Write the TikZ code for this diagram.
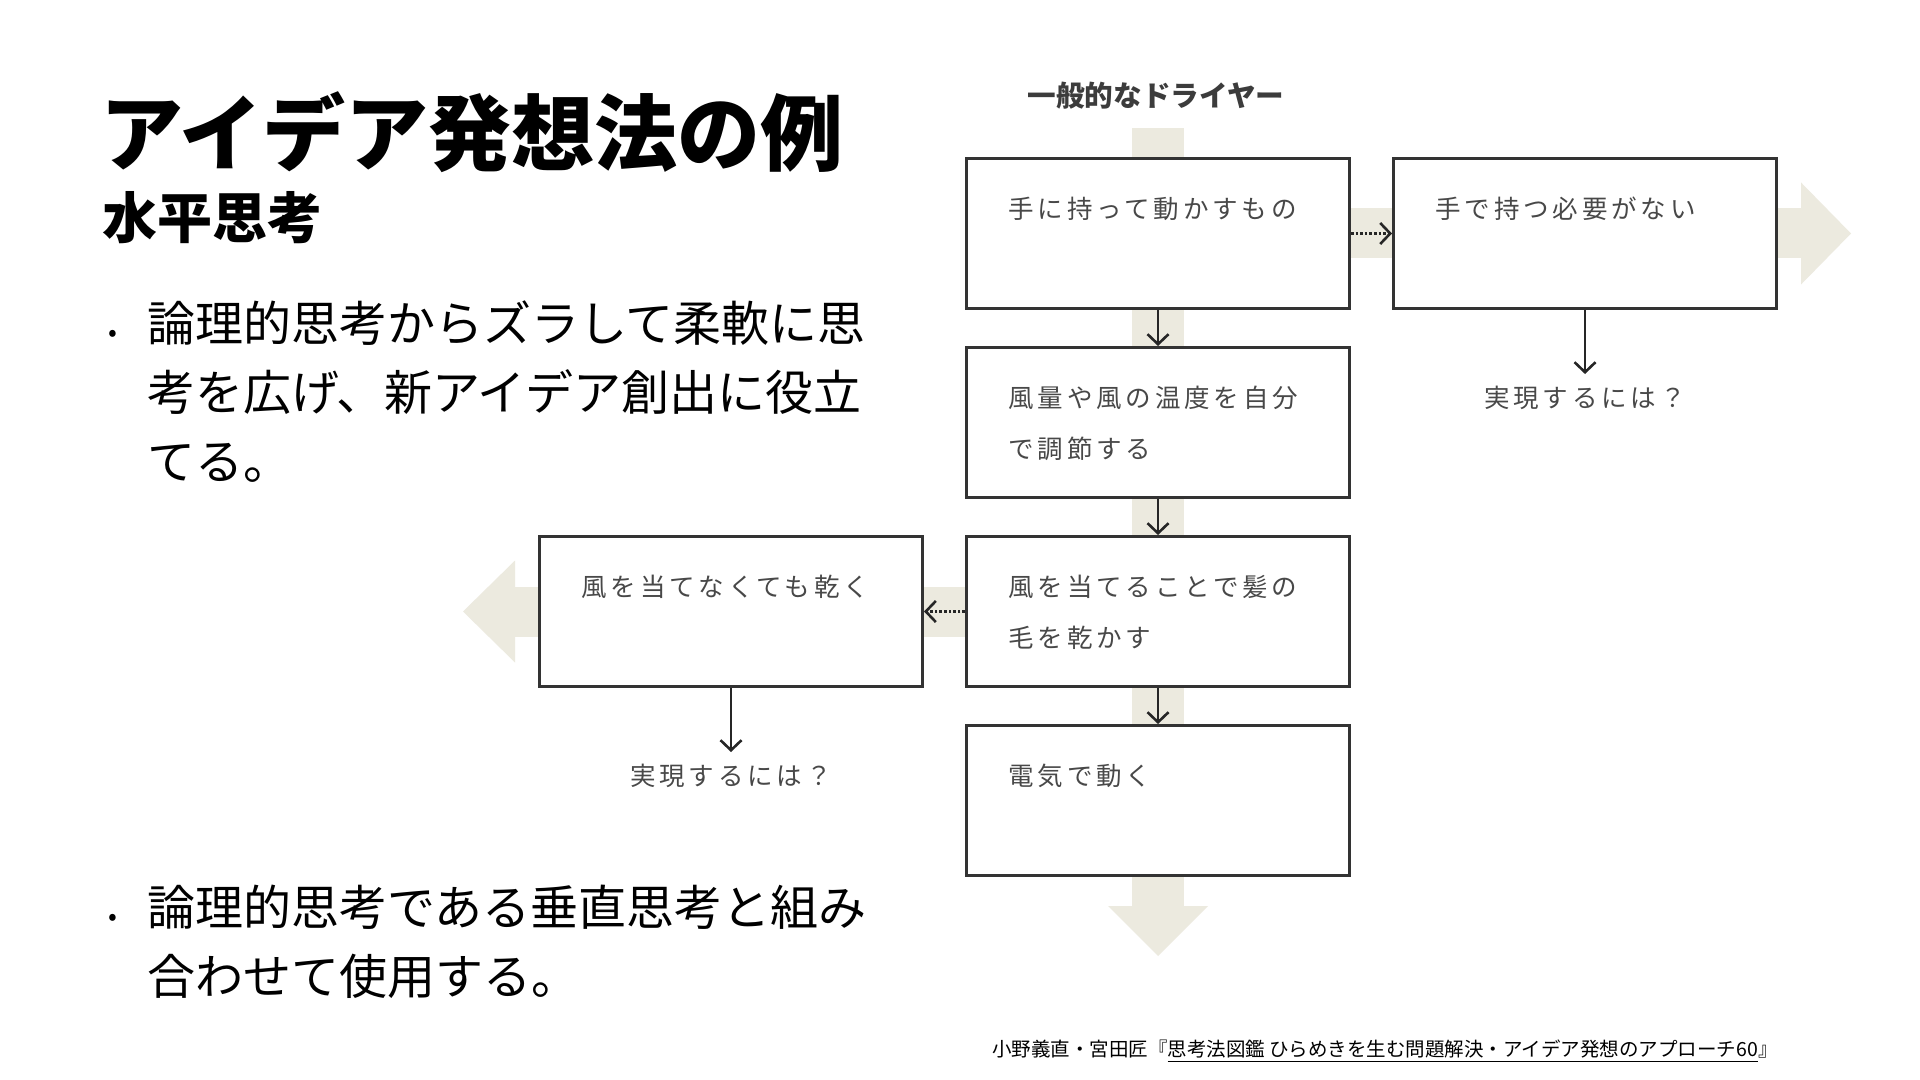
\documentclass[tikz,border=0pt]{standalone}
\usepackage{fontspec}
\setmainfont{Noto Sans CJK JP}
\newfontfamily\boxfont{Noto Sans CJK JP}[LetterSpace=15]
\usetikzlibrary{calc,positioning,arrows.meta,backgrounds}
\definecolor{bandc}{HTML}{ECEADF}
\definecolor{linec}{HTML}{333333}
\definecolor{txtc}{HTML}{484848}
\definecolor{headc}{HTML}{3C3C3C}

\begin{document}
\begin{tikzpicture}[x=0.5pt,y=-0.5pt,
  idea/.style={rectangle, draw=linec, line width=1.5pt, fill=white,
    minimum width=191.5pt, minimum height=75pt, text width=149.5pt,
    inner xsep=21pt, inner ysep=0pt, text height=30pt, text depth=45pt,
    align=left, text=txtc, font=\boxfont\fontsize{12.75pt}{25.5pt}\selectfont},
  ask/.style={inner sep=6pt, text=txtc, font=\boxfont\fontsize{12.75pt}{15pt}\selectfont},
  flow/.style={draw=black!85, line width=1.3pt, -{Straight Barb[length=5pt,width=10.5pt]}},
  side/.style={flow, densely dotted},
  point/.style={anchor=base west, inner sep=0pt, text width=380pt, align=left,
    font=\fontsize{24pt}{34.5pt}\selectfont}]
\useasboundingbox (0,0) rectangle (1920,1080);

\node [anchor=west, inner sep=0pt, font=\bfseries\fontsize{41.5pt}{45pt}\selectfont] (title) at (100,132) {アイデア発想法の例};
\node [anchor=west, inner sep=0pt, font=\bfseries\fontsize{27.5pt}{30pt}\selectfont] (sub) at (102,218) {水平思考};
\node [point] (pt1) at (147,342) {\llap{\fontsize{13pt}{13pt}\selectfont •\hspace{15pt}}論理的思考からズラして柔軟に思\\考を広げ、新アイデア創出に役立\\てる。};
\node [point] (pt2) at (147,925) {\llap{\fontsize{13pt}{13pt}\selectfont •\hspace{15pt}}論理的思考である垂直思考と組み\\合わせて使用する。};

\node [idea, anchor=north west] (dryer) at (965,157) {手に持って動かすもの};
\node [idea, right=20.5pt of dryer] (nohand) {手で持つ必要がない};
\node [idea, below=18pt of dryer] (adjust) {風量や風の温度を自分\\で調節する};
\node [idea, below=18pt of adjust] (dryhair) {風を当てることで髪の\\毛を乾かす};
\node [idea, below=18pt of dryhair] (electric) {電気で動く};
\node [idea, left=20.5pt of dryhair] (nowind) {風を当てなくても乾く};
\node [ask, below=32pt of nohand] (ask1) {実現するには？};
\node [ask, below=32pt of nowind] (ask2) {実現するには？};
\node [text=headc, font=\bfseries\fontsize{14.3pt}{16pt}\selectfont] (head) at (1156,96) {一般的なドライヤー};

\begin{scope}[on background layer]
\fill [white] (0,0) rectangle (1920,1080);
\fill [bandc] ($(dryer.north)+(-26,-29)$) rectangle ($(electric.south)+(26,29)$);
\fill [bandc] ($(electric.south)+(-50,29)$) -- ($(electric.south)+(50,29)$) -- ($(electric.south)+(0,79)$) -- cycle;
\fill [bandc] ($(dryer.east)+(0,-25)$) rectangle ($(nohand.east)+(23,25)$);
\fill [bandc] ($(nohand.east)+(23,-51)$) -- ($(nohand.east)+(73,0)$) -- ($(nohand.east)+(23,51)$) -- cycle;
\fill [bandc] ($(dryhair.west)+(0,-25)$) rectangle ($(nowind.west)+(-23,25)$);
\fill [bandc] ($(nowind.west)+(-23,-51)$) -- ($(nowind.west)+(-75,0)$) -- ($(nowind.west)+(-23,51)$) -- cycle;
\end{scope}

\draw [flow] (dryer.south) -- (adjust.north);
\draw [flow] (adjust.south) -- (dryhair.north);
\draw [flow] (dryhair.south) -- (electric.north);
\draw [side] (dryer.east) -- (nohand.west);
\draw [side] (dryhair.west) -- (nowind.east);
\draw [flow] (nohand.south) -- (ask1.north);
\draw [flow] (nowind.south) -- (ask2.north);

\node [anchor=east, inner sep=0pt, font=\fontsize{9.75pt}{11pt}\selectfont] (src) at (1778,1051) {小野義直・宮田匠『\underline{思考法図鑑 ひらめきを生む問題解決・アイデア発想のアプローチ60}』};
\end{tikzpicture}
\end{document}
